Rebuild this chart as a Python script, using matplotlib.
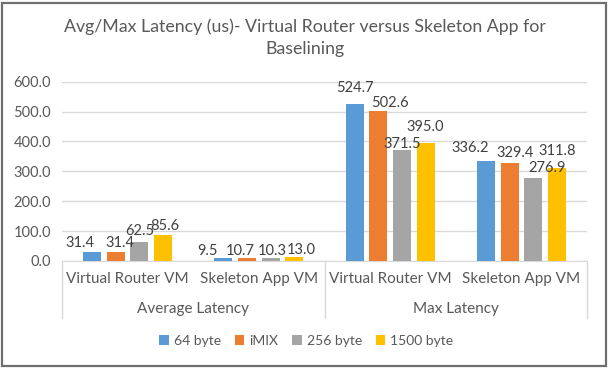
import matplotlib.pyplot as plt
from matplotlib.patches import Rectangle
import numpy as np

plt.rcParams['font.family'] = ['Lato', 'DejaVu Sans']

categories = ["Virtual Router VM", "Skeleton App VM", "Virtual Router VM", "Skeleton App VM"]
groups = ["Average Latency", "Max Latency"]
series = ["64 byte", "iMIX", "256 byte", "1500 byte"]
vals_64 = [31.4, 9.5, 524.7, 336.2]
vals_imix = [31.4, 10.7, 502.6, 329.4]
vals_256 = [62.5, 10.3, 371.5, 276.9]
vals_1500 = [85.6, 13.0, 395.0, 311.8]
colors = ["#5B9BD5", "#ED7D31", "#A5A5A5", "#FFC000"]

# label nudges (px) to mimic excel's shifted labels: (dx, dy) per series per category
nudges = [
    [(-12, 9), (-16, 7), (0, 16), (-16, 13)],
    [(4, 9), (-7, 7), (12, 8), (6, 10)],
    [(0, 11), (2, 7), (0, 6), (14, 10)],
    [(2, 9), (7, 7), (0, 16), (0, 17)],
]

fig = plt.figure(figsize=(6.1, 3.71), dpi=100)
ax = fig.add_axes([62 / 610, 1 - 261 / 371, 525 / 610, 179.3 / 371])

x = np.arange(len(categories))
width = 0.137
step = 0.18
all_vals = [vals_64, vals_imix, vals_256, vals_1500]
for i, (name, vals, c) in enumerate(zip(series, all_vals, colors)):
    pos = x + (i - 1.5) * step
    ax.bar(pos, vals, width, color=c, label=name, zorder=3)
    for j, (p, v) in enumerate(zip(pos, vals)):
        dx, dy = nudges[i][j]
        ax.annotate(f"{v:.1f}", (p, v), xytext=(dx * 0.72, dy * 0.72),
                    textcoords="offset points", ha="center", va="center",
                    fontsize=10.5, color="#404040", zorder=4)

ax.set_xlim(-0.5, 3.5)
ax.set_ylim(0, 600)
ax.set_yticks(np.arange(0, 601, 100))
ax.set_yticklabels([f"{t:.1f}" for t in np.arange(0, 601, 100)], fontsize=10.5, color="#595959")
ax.yaxis.grid(True, color="#D9D9D9", lw=1, zorder=0)
ax.tick_params(axis="y", length=0, pad=8)
ax.set_xticks([])
for s in ["top", "right", "left"]:
    ax.spines[s].set_visible(False)
ax.spines["bottom"].set_color("#D9D9D9")

trans = ax.get_xaxis_transform()
for j, cat in enumerate(categories):
    ax.text(j, -0.1, cat, transform=trans, ha="center", va="center",
            fontsize=11, color="#595959")
for k, g in enumerate(groups):
    ax.text(2 * k + 0.5, -0.27, g, transform=trans, ha="center", va="center",
            fontsize=11, color="#595959")
for xb in [-0.5, 1.5, 3.5]:
    ax.plot([xb, xb], [0, -0.32], transform=trans, color="#D9D9D9", lw=1, clip_on=False)

fig.suptitle("Avg/Max Latency (us)- Virtual Router versus Skeleton App for\nBaselining",
             y=0.95, fontsize=12.8, color="#595959", linespacing=1.45)

fig.legend(loc="center", bbox_to_anchor=(0.502, 1 - 341 / 371), ncol=4, frameon=False,
           fontsize=10, labelcolor="#595959", handlelength=0.7, handleheight=0.7,
           handletextpad=0.35, columnspacing=1.0)

fig.patches.append(Rectangle((2 / 610, 1 - 366 / 371), 604 / 610, 363 / 371,
                             transform=fig.transFigure, fill=False,
                             edgecolor="#6F6F6F", lw=1.6))

fig.savefig("out.png", dpi=100)
